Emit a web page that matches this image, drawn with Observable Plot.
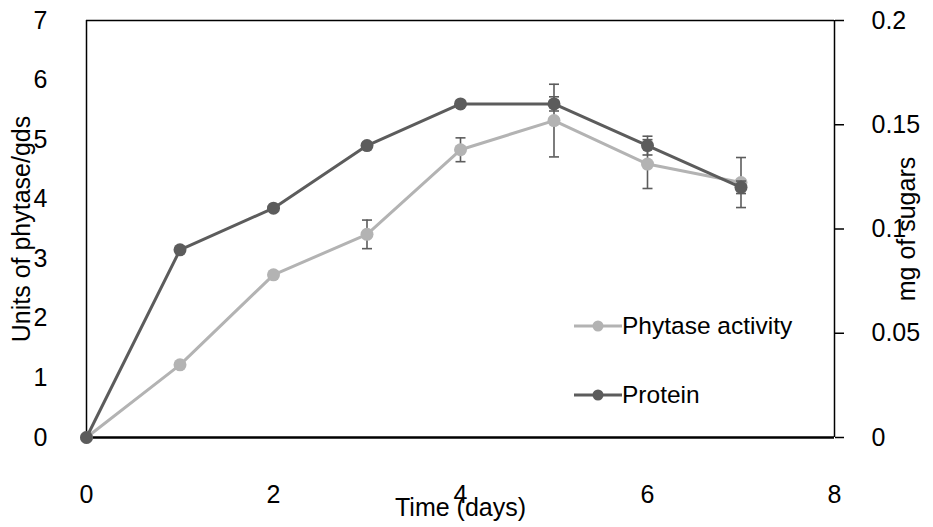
<!DOCTYPE html>
<html><head><meta charset="utf-8">
<script src="https://cdn.jsdelivr.net/npm/d3@7"></script>
<script src="https://cdn.jsdelivr.net/npm/@observablehq/plot@0.6"></script>
<style>
body{margin:0;background:#fff;}
#wrap{position:relative;width:933px;height:527px;font-family:"Liberation Sans",Arial,sans-serif;}
.lg{position:absolute;left:574px;height:24px;font-size:24.5px;line-height:24px;display:flex;align-items:center;color:#000;}
.lg svg{margin-right:0px;}
</style></head><body><div id="wrap"></div>
<script>
const days = [0,1,2,3,4,5,6,7];
const phytase = [0,1.22,2.73,3.41,4.83,5.32,4.59,4.28];
const phytaseErr = [0,0,0,0.24,0.2,0.61,0.41,0.42];
const protein = [0,0.09,0.11,0.14,0.16,0.16,0.14,0.12];
const proteinErr = [0,0,0,0,0,0.0034,0.0045,0.003];
const leftTicks = [0,1,2,3,4,5,6,7];
const rightTicks = [0,0.05,0.1,0.15,0.2];
const xTicks = [0,2,4,6,8];
const seriesNames = ["Phytase activity","Protein"];
const xTitle = "Time (days)";
const yLeftTitle = "Units of phytase/gds";
const yRightTitle = "mg of sugars";
const colors = ["#b3b3b3","#5c5c5c"];

const ratio = 7/0.2; // right axis (0–0.2) mapped onto left axis (0–7)
const rowsP = days.map((d,i)=>({x:d,y:phytase[i],lo:phytase[i]-phytaseErr[i],hi:phytase[i]+phytaseErr[i],e:phytaseErr[i]}));
const rowsQ = days.map((d,i)=>({x:d,y:protein[i]*ratio,lo:(protein[i]-proteinErr[i])*ratio,hi:(protein[i]+proteinErr[i])*ratio,e:proteinErr[i]}));
const cap = {draw(ctx){ctx.moveTo(-5,0);ctx.lineTo(5,0);}};
const errMarks = (rows)=>{
  const r = rows.filter(d=>d.e>0);
  return [
    Plot.ruleX(r,{x:"x",y1:"lo",y2:"hi",stroke:colors[1],strokeWidth:1.6}),
    Plot.dot(r,{x:"x",y:"lo",symbol:cap,stroke:colors[1],strokeWidth:1.6,fill:"none"}),
    Plot.dot(r,{x:"x",y:"hi",symbol:cap,stroke:colors[1],strokeWidth:1.6,fill:"none"})
  ];
};

const chart = Plot.plot({
  width:933, height:527,
  marginLeft:86, marginRight:99, marginTop:20, marginBottom:90,
  style:{fontFamily:'"Liberation Sans",Arial,sans-serif',fontSize:"24px",color:"#000",background:"#fff"},
  x:{domain:[0,8]},
  y:{domain:[0,7]},
  marks:[
    Plot.axisY(leftTicks,{anchor:"left",tickSize:0,tickPadding:39,tickFormat:d3.format("d"),label:yLeftTitle,labelAnchor:"center",labelArrow:"none",labelOffset:74,fontSize:25}),
    Plot.axisY(rightTicks.map(v=>v*ratio),{anchor:"right",tickSize:9,tickPadding:28,tickFormat:d=>String(+(d/ratio).toFixed(3)),label:yRightTitle,labelAnchor:"center",labelArrow:"none",labelOffset:80,fontSize:25,strokeWidth:1.5}),
    Plot.axisX(xTicks,{tickSize:0,tickPadding:48,label:xTitle,labelAnchor:"center",labelArrow:"none",labelOffset:78,fontSize:25}),
    Plot.ruleX([0,8],{stroke:"#000",strokeWidth:1.5}),
    Plot.ruleY([0],{stroke:"#000",strokeWidth:2.5}),
    Plot.ruleY([7],{stroke:"#000",strokeWidth:1.5}),
    Plot.line(rowsP,{x:"x",y:"y",stroke:colors[0],strokeWidth:3}),
    ...errMarks(rowsP),
    Plot.dot(rowsP,{x:"x",y:"y",fill:colors[0],r:6.5}),
    Plot.line(rowsQ,{x:"x",y:"y",stroke:colors[1],strokeWidth:3}),
    ...errMarks(rowsQ),
    Plot.dot(rowsQ,{x:"x",y:"y",fill:colors[1],r:6.5})
  ]
});
const wrap = document.getElementById("wrap");
wrap.appendChild(chart);
const legendTops = [314,383];
seriesNames.forEach((n,i)=>{
  const div = document.createElement("div");
  div.className="lg";
  div.style.top = legendTops[i]+"px";
  div.innerHTML = `<svg width="48" height="24"><line x1="0" x2="48" y1="12" y2="12" stroke="${colors[i]}" stroke-width="3"/><circle cx="24" cy="12" r="5.5" fill="${colors[i]}"/></svg><span>${n}</span>`;
  wrap.appendChild(div);
});
</script></body></html>
